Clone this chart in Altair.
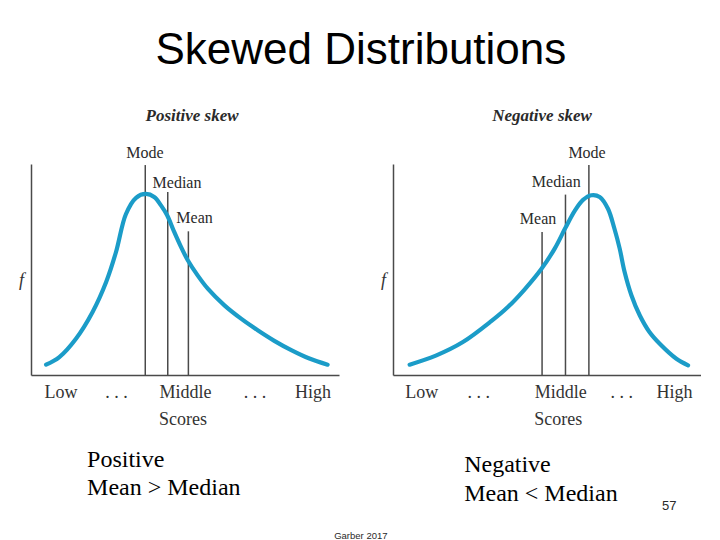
import altair as alt
import pandas as pd

# ---------------- data ----------------
# Positive skew curve (score 0-100, relative frequency 0-1)
pos_x = [4.9, 9.2, 14.6, 20.0, 24.4, 27.6, 30.8, 34.1, 37.3, 40.0, 42.2, 44.2, 46.5, 48.7, 50.9,
         54.1, 57.4, 62.8, 68.2, 73.6, 79.0, 84.5, 90.4, 96.3]
pos_y = [0.049, 0.085, 0.172, 0.299, 0.441, 0.583, 0.762, 0.840, 0.858, 0.844, 0.804, 0.757, 0.678,
         0.607, 0.544, 0.472, 0.409, 0.330, 0.267, 0.212, 0.162, 0.118, 0.078, 0.049]
# Negative skew curve
neg_x = [5.4, 14.1, 22.7, 31.9, 37.3, 42.7, 48.1, 52.5, 55.9, 59.0, 61.7, 64.4, 67.1, 69.8, 71.9,
         73.6, 75.2, 77.4, 80.1, 83.2, 86.6, 92.0, 95.8]
neg_y = [0.049, 0.093, 0.156, 0.255, 0.322, 0.405, 0.501, 0.599, 0.695, 0.778, 0.830, 0.852, 0.844,
         0.788, 0.693, 0.599, 0.488, 0.378, 0.283, 0.205, 0.148, 0.077, 0.046]

stat_names = ["Mode", "Median", "Mean"]
pos_stat_x = [37.1, 44.4, 51.1]
pos_stat_top = [0.995, 0.867, 0.681]
pos_label_x = [37.0, 47.4, 53.1]
pos_label_y = [1.028, 0.886, 0.720]
neg_stat_x = [63.6, 56.0, 48.4]
neg_stat_top = [0.995, 0.855, 0.678]
neg_label_x = [63.0, 53.0, 47.1]
neg_label_y = [1.028, 0.891, 0.716]

tick_labels = ["Low", ". . .", "Middle", ". . .", "High"]
pos_tick_vals = [9.6, 27.6, 50.0, 72.6, 91.4]
neg_tick_vals = [9.2, 27.7, 54.3, 74.1, 91.2]

panel_titles = ["Positive skew", "Negative skew"]
panel_title_x = [52.3, 48.4]
panel_title_y = 1.204

main_title = "Skewed Distributions"
main_title_x = 107.1
main_title_y = 1.474

pos_note = ["Positive", "Mean > Median"]
pos_note_x, pos_note_y = 18.2, -0.436
neg_note = ["Negative", "Mean < Median"]
neg_note_x, neg_note_y = 23.1, -0.460

page_number = "57"
page_number_x, page_number_y = 89.7, -0.621
footer = "Garber 2017"
footer_x, footer_y = 107.1, -0.762

# ---------------- styling ----------------
W, H = 308, 211
CURVE = "#1b9cc8"
INK = "#2a2a2a"
LINE = "#4a4a4a"
SERIF = "Liberation Serif"
SANS = "Liberation Sans"

xs = alt.Scale(domain=[0, 100], nice=False, zero=False)
ys = alt.Scale(domain=[0, 1], nice=False, zero=False)


def label_expr(vals):
    expr = "''"
    for v, t in reversed(list(zip(vals, tick_labels))):
        expr = f"datum.value == {v} ? '{t}' : ({expr})"
    return expr


def text_layer(df, font, size, color=INK, **kw):
    return alt.Chart(df).mark_text(font=font, fontSize=size, color=color, **kw).encode(
        x=alt.X("x:Q", scale=xs), y=alt.Y("y:Q", scale=ys), text="t:N"
    )


def panel(cx, cy, sx, stop, lx, ly, tick_vals, title, title_x, title_px, note, nx, ny, extras):
    curve_df = pd.DataFrame({"x": cx, "y": cy})
    xaxis = alt.Axis(
        values=tick_vals, labelExpr=label_expr(tick_vals), grid=False, ticks=False,
        domainColor=LINE, domainWidth=1.5, labelFont=SERIF, labelFontSize=18,
        labelColor="#333", labelBaseline="alphabetic", labelPadding=22,
        labelFlush=False, labelOverlap=False, title="Scores", titleFont=SERIF,
        titleFontSize=18, titleFontWeight="normal", titleColor="#333",
        titleX=title_px, titleY=49, titleAlign="center", titleBaseline="alphabetic",
    )
    yaxis = alt.Axis(
        grid=False, ticks=False, labels=False, domainColor=LINE, domainWidth=1.5,
        title="f", titleAngle=0, titleFont=SERIF, titleFontStyle="italic",
        titleFontSize=18, titleFontWeight="normal", titleColor="#333",
        titleX=-10, titleY=116, titleAlign="center", titleBaseline="middle",
    )
    base_curve = alt.Chart(curve_df).mark_line(
        color=CURVE, strokeWidth=4.2, interpolate="catmull-rom", strokeCap="round"
    ).encode(x=alt.X("x:Q", scale=xs, axis=xaxis), y=alt.Y("y:Q", scale=ys, axis=yaxis))

    stats_df = pd.DataFrame({"x": sx, "y0": [0] * 3, "y1": stop, "name": stat_names})
    rules = alt.Chart(stats_df).mark_rule(color=LINE, strokeWidth=1.5).encode(
        x=alt.X("x:Q", scale=xs), y=alt.Y("y0:Q", scale=ys), y2="y1:Q"
    )
    lab_df = pd.DataFrame({"x": lx, "y": ly, "t": stat_names})
    labs = text_layer(lab_df, SERIF, 16, align="center", baseline="alphabetic")

    ttl_df = pd.DataFrame({"x": [title_x], "y": [panel_title_y], "t": [title]})
    ttl = text_layer(ttl_df, SERIF, 17, align="center", baseline="alphabetic",
                     fontStyle="italic", fontWeight="bold")

    note_df = pd.DataFrame({"x": [nx], "y": [ny], "t": ["\n".join(note)]})
    note_l = text_layer(note_df, SERIF, 24, color="#000", align="left", baseline="alphabetic",
                        lineBreak="\n", lineHeight=28.5)

    layers = [rules, base_curve, labs, ttl, note_l] + extras
    return alt.layer(*layers).properties(width=W, height=H)


main_df = pd.DataFrame({"x": [main_title_x], "y": [main_title_y], "t": [main_title]})
main_t = text_layer(main_df, SANS, 44, color="#000", align="center", baseline="alphabetic")
foot_df = pd.DataFrame({"x": [footer_x], "y": [footer_y], "t": [footer]})
foot_t = text_layer(foot_df, SANS, 9.5, align="center", baseline="middle")
num_df = pd.DataFrame({"x": [page_number_x], "y": [page_number_y], "t": [page_number]})
num_t = text_layer(num_df, SANS, 13, align="center", baseline="middle")

left = panel(pos_x, pos_y, pos_stat_x, pos_stat_top, pos_label_x, pos_label_y,
             pos_tick_vals, panel_titles[0], panel_title_x[0], 151.5,
             pos_note, pos_note_x, pos_note_y, [main_t, foot_t])
right = panel(neg_x, neg_y, neg_stat_x, neg_stat_top, neg_label_x, neg_label_y,
              neg_tick_vals, panel_titles[1], panel_title_x[1], 164.8,
              neg_note, neg_note_x, neg_note_y, [num_t])

chart = alt.hconcat(left, right, spacing=54, bounds="flush").properties(
    padding={"left": 10, "top": 20, "right": 0, "bottom": 0}
).configure_view(stroke=None)

chart.save("out.html", embed_options={"renderer": "svg", "actions": False})
